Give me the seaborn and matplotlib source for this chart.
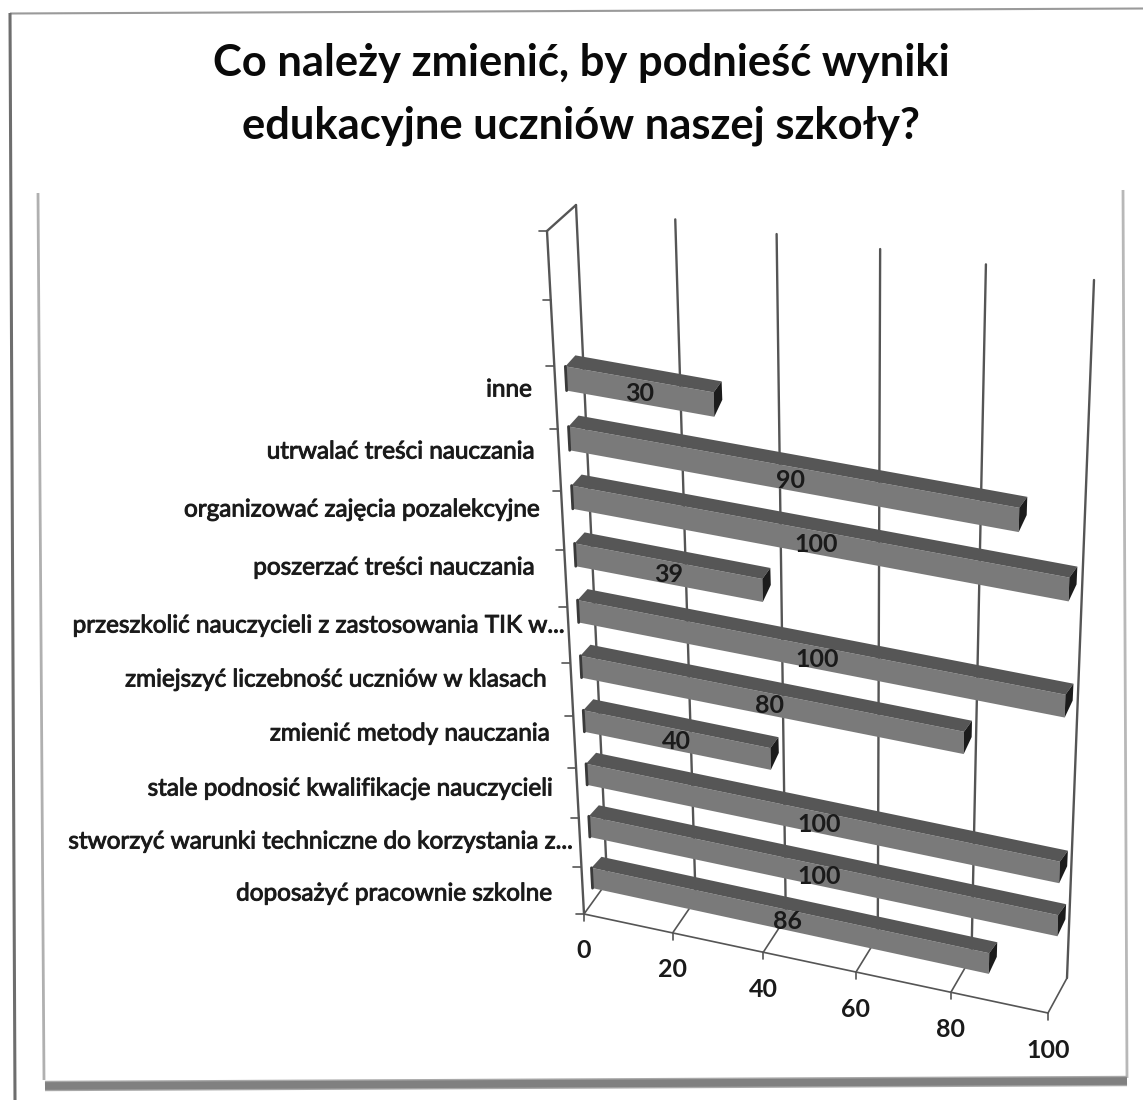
import numpy as np
import pandas as pd
import matplotlib
matplotlib.use("Agg")
import matplotlib.pyplot as plt
import matplotlib.patheffects as pe
from matplotlib.patches import Polygon
from matplotlib.transforms import Affine2D, Transform
import seaborn as sns

categories = [
    "inne",
    "utrwalać treści nauczania",
    "organizować zajęcia pozalekcyjne",
    "poszerzać treści nauczania",
    "przeszkolić nauczycieli z zastosowania TIK w...",
    "zmiejszyć liczebność uczniów w klasach",
    "zmienić metody nauczania",
    "stale podnosić kwalifikacje nauczycieli",
    "stworzyć warunki techniczne do korzystania z...",
    "doposażyć pracownie szkolne",
]
values = [30, 90, 100, 39, 100, 80, 40, 100, 100, 86]
value_ticks = [0, 20, 40, 60, 80, 100]
title_lines = ["Co należy zmienić, by podnieść wyniki", "edukacyjne uczniów naszej szkoły?"]

# right end of each category label, the original has uneven padding
label_right = [532, 535, 540, 535, 565, 547, 550, 553, 573, 552]
label_y = [390, 452, 510, 568, 626, 680, 734, 789, 842, 894]


class Quad(Transform):
    """Projective map of a data rectangle on to a four sided shape in image pixels."""
    input_dims = 2
    output_dims = 2
    has_inverse = False

    def __init__(self, src, dst):
        super().__init__()
        a, b = [], []
        for (x, y), (u, v) in zip(src, dst):
            a.append([x, y, 1, 0, 0, 0, -u * x, -u * y])
            a.append([0, 0, 0, x, y, 1, -v * x, -v * y])
            b += [u, v]
        self.m = np.append(np.linalg.solve(np.array(a, float), np.array(b, float)), 1).reshape(3, 3)

    def transform_non_affine(self, values):
        pts = np.column_stack([values, np.ones(len(values))]) @ self.m.T
        return pts[:, :2] / pts[:, 2:]


W, H = 1143, 1100
fig = plt.figure(figsize=(W / 100, H / 100), dpi=100)
sns.set_theme(style="white")
plt.rcParams["font.family"] = ["Lato", "DejaVu Sans"]
ax = fig.add_axes([0, 0, 1, 1])

# image pixels, origin top left
px = Affine2D().scale(1, -1).translate(0, H)

# the planes of the 3D chart
n = len(categories)
front = Quad([(0, 0), (100, 0), (100, n - 1), (0, n - 1)],
             [(566, 378.5), (1073, 468), (1056, 978), (592, 878)])
wall = Quad([(0, 0), (100, 0), (100, 1), (0, 1)],
            [(607, 879), (1067, 978), (1094, 280), (576, 205)])
floor = Quad([(0, 0), (100, 0), (100, 1), (0, 1)],
             [(584, 914), (1048, 1013), (1067, 978), (607, 882)])
side = Quad([(0, 0), (1, 0), (1, 12), (0, 12)],
            [(584, 914), (607, 879), (576, 205), (547, 231)])
depth = np.array([8, -11])

df = pd.DataFrame({"category": categories, "value": values})
sns.barplot(data=df, x="value", y="category", orient="h", width=0.4, color="#7a7a7a",
            saturation=1, ax=ax, zorder=3)
bars = list(ax.patches)

grey = "#555555"
thin = dict(color=grey, lw=1.2, zorder=1, clip_on=False)
for v in value_ticks:
    ax.plot([v, v], [0, 1], transform=wall + px, color=grey, lw=1.7, zorder=1, clip_on=False)
    ax.plot([v, v], [0, 1], transform=floor + px, **thin)
    # short upright tick under the floor, and the label below it
    x, y = floor.transform([(v, 0)])[0]
    ax.plot([x, x], [y, y + 7], transform=px, **thin)
    ax.text(x, y + 37, str(v), transform=px, ha="center", va="center", fontsize=18, color="#1a1a1a",
            fontweight="bold", clip_on=False)
ax.plot([0, 100], [0, 0], transform=floor + px, **thin)
ax.plot([0, 0], [0, 12], transform=side + px, color=grey, lw=1.7, zorder=1, clip_on=False)
ax.plot([0, 1], [12, 12], transform=side + px, color=grey, lw=1.7, zorder=1, clip_on=False)
for s in range(13):
    x, y = side.transform([(0, s)])[0]
    ax.plot([x - 8, x], [y, y], transform=px, **thin)

for bar in bars:
    bar.set_transform(front + px)
    bar.set_clip_on(False)
    bar.set_edgecolor("none")
    x0, y0, w, h = bar.get_x(), bar.get_y(), bar.get_width(), bar.get_height()
    corners = front.transform([(x0, y0), (x0 + w, y0), (x0 + w, y0 + h), (x0, y0 + h)])
    # top face
    ax.add_patch(Polygon([corners[0], corners[1], corners[1] + depth, corners[0] + depth + [2, 0]],
                         closed=True, facecolor="#565656", edgecolor="none", transform=px, zorder=3, clip_on=False))
    # right end
    ax.add_patch(Polygon([corners[1], corners[1] + depth, corners[2] + depth + [0, -6], corners[2]],
                         closed=True, facecolor="#1c1c1c", edgecolor="none", transform=px, zorder=3, clip_on=False))
    # left end
    ax.plot(corners[[0, 3], 0], corners[[0, 3], 1], color="#3a3a3a", lw=2, transform=px, zorder=4, clip_on=False)

for i, v in enumerate(values):
    ax.text(v / 2, i + 0.03, str(v), transform=front + px, ha="center", va="center", fontsize=18,
            color="#1a1a1a", fontweight="bold", zorder=6, clip_on=False)

ax.set_axis_off()
ax.set_xlim(0, 100)

halo = [pe.withStroke(linewidth=0.7, foreground="#222222")]
for name, x, y in zip(categories, label_right, label_y):
    ax.text(x, y, name, transform=px, ha="right", va="center", fontsize=17.5, color="#1a1a1a",
            path_effects=halo, clip_on=False)

for txt, y in zip(title_lines, [63, 126]):
    ax.text(581, y, txt, transform=px, ha="center", va="center", fontsize=31.3, fontweight="bold",
            color="#0a0a0a", clip_on=False)

# paper frame and chart panel of the scan
frame = dict(transform=px, clip_on=False, solid_capstyle="butt")
ax.plot([10, 1143], [13.5, 8.5], color="#9a9a9a", lw=1.5, **frame)
ax.plot([10, 15], [13, 1100], color="#6e6e6e", lw=2.2, **frame)
ax.plot([38, 44], [193, 1080], color="#b0b0b0", lw=2, **frame)
ax.plot([1123, 1127], [190, 1078], color="#b8b8b8", lw=2, **frame)
ax.plot([45, 1127], [1086, 1081], color="#a8a8a8", lw=7.5, **frame)
ax.plot([45, 1127], [1086, 1081], color="#808080", lw=5.5, **frame)

fig.savefig("out.png", dpi=100)
